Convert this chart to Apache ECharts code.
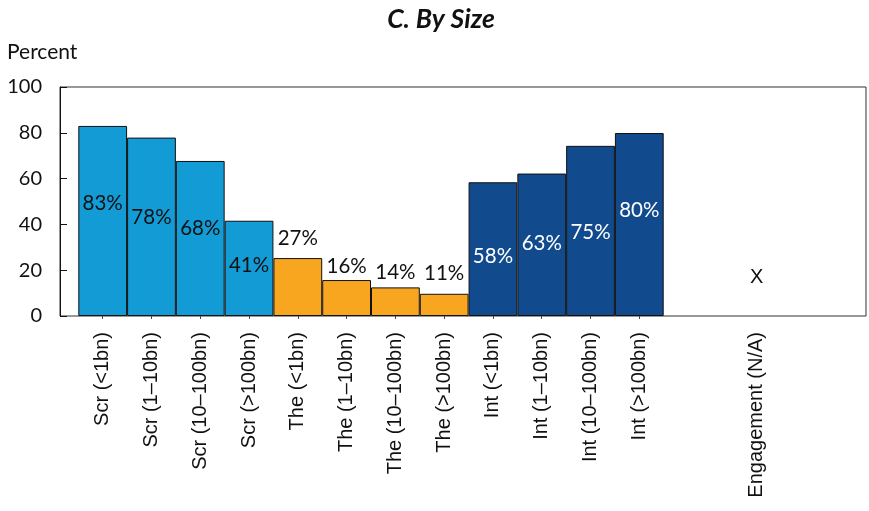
<!DOCTYPE html>
<html>
<head>
<meta charset="utf-8">
<script src="https://cdn.jsdelivr.net/npm/echarts@6/dist/echarts.min.js"></script>
<style>html,body{margin:0;padding:0;background:#fff;}#c{width:869px;height:511px;}</style>
</head>
<body>
<div id="c"></div>
<script>
// ---- data ----
const categories = ['Scr (<1bn)', 'Scr (1–10bn)', 'Scr (10–100bn)', 'Scr (>100bn)',
                    'The (<1bn)', 'The (1–10bn)', 'The (10–100bn)', 'The (>100bn)',
                    'Int (<1bn)', 'Int (1–10bn)', 'Int (10–100bn)', 'Int (>100bn)'];
const barValues = [83.0, 77.9, 67.7, 41.6, 25.3, 15.7, 12.5, 9.7, 58.4, 62.2, 74.3, 79.9];
const labelTexts = ['83%', '78%', '68%', '41%', '27%', '16%', '14%', '11%', '58%', '63%', '75%', '80%'];
const labelY = [49.0, 42.9, 38.1, 21.9, 34.0, 21.6, 19.2, 18.4, 25.9, 31.5, 36.3, 45.9];
const naCategories = ['Engagement (N/A)'];
const naMarkTexts = ['X'];
const naMarkY = [16.7];
const yMin = 0, yMax = 100, yStep = 20;

// ---- styles ----
const groupColors = { Scr: '#139BD6', The: '#F8A51F', Int: '#114B8D' };
const groupLabelColors = { Scr: '#111111', The: '#111111', Int: '#FFFFFF' };
const groupOf = c => c.split(' ')[0];

const gridTop = 87, gridH = 229;
const textLabel = (text, color, family, size) => ({
  show: true, position: 'inside', formatter: text, color: color, opacity: 1,
  fontFamily: family, fontSize: size, textBorderWidth: 0, textBorderColor: 'transparent',
  textShadowBlur: 0
});
const chart = echarts.init(document.getElementById('c'), null, { renderer: 'canvas' });
chart.setOption({
  animation: false,
  title: [
    { text: 'C. By Size', left: 436, textAlign: 'center', top: 1,
      textStyle: { fontFamily: 'Lato', fontWeight: 'bold', fontStyle: 'italic', fontSize: 26.5, color: '#111' } },
    { text: 'Percent', left: 2, top: 37,
      textStyle: { fontFamily: 'Lato', fontWeight: 'normal', fontSize: 21, color: '#111' } }
  ],
  grid: [
    { left: 60, top: gridTop, width: 806, height: gridH, show: true, borderColor: '#333', borderWidth: 1, backgroundColor: 'transparent' },
    { left: 78.3, top: gridTop, width: 585.4, height: gridH },
    { left: 732, top: gridTop, width: 49.4, height: gridH }
  ],
  xAxis: [
    { gridIndex: 0, type: 'category', data: [''], show: false },
    { gridIndex: 1, type: 'category', data: categories, boundaryGap: true,
      axisLine: { show: false },
      axisTick: { show: true, alignWithLabel: true, length: 3, lineStyle: { color: '#444' } },
      axisLabel: { rotate: 90, interval: 0, margin: 16, fontFamily: 'Liberation Sans', fontSize: 20, color: '#111' } },
    { gridIndex: 2, type: 'category', data: naCategories, boundaryGap: true,
      axisLine: { show: false }, axisTick: { show: false },
      axisLabel: { rotate: 90, interval: 0, margin: 16, fontFamily: 'Liberation Sans', fontSize: 20, color: '#111' } }
  ],
  yAxis: [
    { gridIndex: 0, type: 'value', min: yMin, max: yMax, interval: yStep,
      splitLine: { show: false },
      axisLine: { show: true, lineStyle: { color: '#111', width: 1 } },
      axisTick: { show: true, inside: true, length: 7, lineStyle: { color: '#111' } },
      axisLabel: { margin: 18, fontFamily: 'Lato', fontSize: 20, color: '#111' } },
    { gridIndex: 1, type: 'value', min: yMin, max: yMax, show: false, splitLine: { show: false } },
    { gridIndex: 2, type: 'value', min: yMin, max: yMax, show: false, splitLine: { show: false } }
  ],
  series: [
    { type: 'bar', xAxisIndex: 1, yAxisIndex: 1, barCategoryGap: 0, barGap: 0,
      data: barValues.map((v, i) => ({ value: v, itemStyle: { color: groupColors[groupOf(categories[i])] } })),
      itemStyle: { borderColor: '#111', borderWidth: 1 } },
    { type: 'scatter', xAxisIndex: 1, yAxisIndex: 1, symbolSize: 0, silent: true, z: 5,
      itemStyle: { opacity: 1 },
      data: labelY.map((v, i) => ({ value: v,
        label: textLabel(labelTexts[i], groupLabelColors[groupOf(categories[i])], 'Lato', 20.5) })) },
    { type: 'scatter', xAxisIndex: 2, yAxisIndex: 2, symbolSize: 0, silent: true, z: 5,
      itemStyle: { opacity: 1 },
      data: naMarkY.map((v, i) => ({ value: v,
        label: textLabel(naMarkTexts[i], '#111', 'Liberation Sans', 20) })) }
  ]
});
</script>
</body>
</html>
